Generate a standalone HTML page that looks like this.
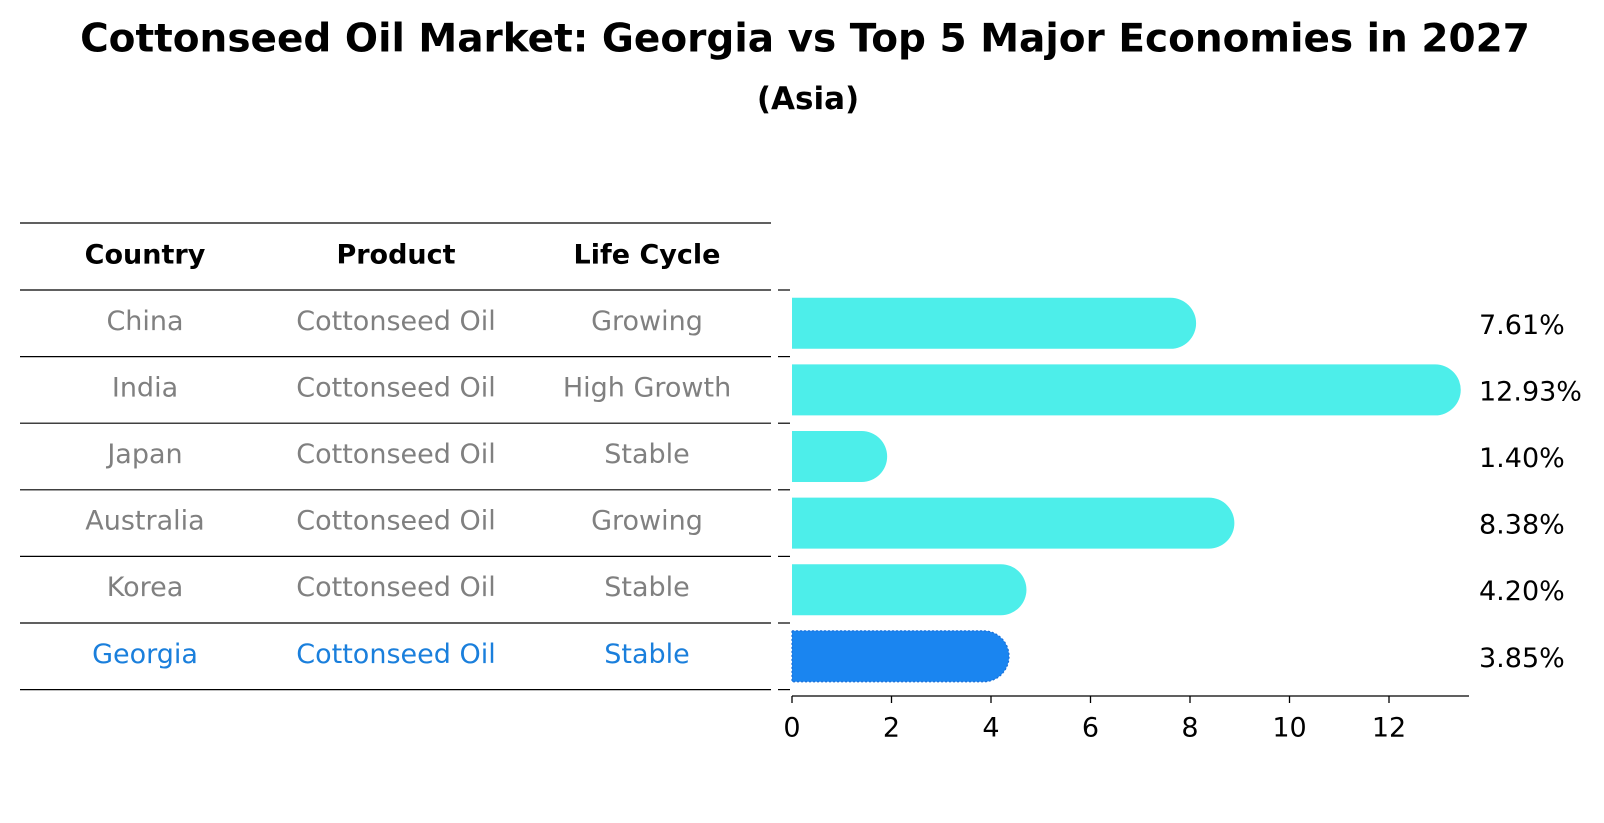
<!DOCTYPE html>
<html><head><meta charset="utf-8">
<style>
html,body{margin:0;padding:0;background:#fff;}
svg{display:block;font-family:"DejaVu Sans","Liberation Sans",sans-serif;}
</style></head>
<body>
<svg id="chart" width="1604" height="823" viewBox="0 0 1604 823">
  <text x="805" y="39" text-anchor="middle" dominant-baseline="central" font-size="39" font-weight="bold">Cottonseed Oil Market: Georgia vs Top 5 Major Economies in 2027</text>
  <text x="808" y="99" text-anchor="middle" dominant-baseline="central" font-size="31" font-weight="bold">(Asia)</text>
  <g id="table"></g>
  <g id="bars"></g>
  <g id="axis"></g>
</svg>
<script>
const countries = ["China","India","Japan","Australia","Korea","Georgia"];
const products = ["Cottonseed Oil","Cottonseed Oil","Cottonseed Oil","Cottonseed Oil","Cottonseed Oil","Cottonseed Oil"];
const lifeCycles = ["Growing","High Growth","Stable","Growing","Stable","Stable"];
const growthValues = [7.61,12.93,1.40,8.38,4.20,3.85];
const valueLabels = ["7.61%","12.93%","1.40%","8.38%","4.20%","3.85%"];
const xTicks = [0,2,4,6,8,10,12];
const headers = ["Country","Product","Life Cycle"];

const NS="http://www.w3.org/2000/svg";
function mk(tag, attrs, parent){const e=document.createElementNS(NS,tag);for(const k in attrs)e.setAttribute(k,attrs[k]);parent.appendChild(e);return e;}

const x0=792, unit=49.75;
function xScale(v){return x0+v*unit;}
const rowTop=290, rowH=66.6;
function rowCenter(i){return rowTop+rowH*(i+0.5);}
const barH=51;
const FS=27;

const table=document.getElementById('table');
const colX=[145,396,647];
const lineYs=[223,290];
for(let i=0;i<countries.length;i++)lineYs.push(rowTop+rowH*(i+1));
lineYs.forEach((y,i)=>{
  const l=mk('line',{x1:20,x2:771,y1:y,y2:y,stroke:'#000','stroke-width':1.2},table);
  
  
});
headers.forEach((h,j)=>{
  const t=mk('text',{x:colX[j],y:255,'text-anchor':'middle','dominant-baseline':'central','font-size':FS,'font-weight':'bold'},table);
  t.textContent=h;
  
  
});
countries.forEach((c,i)=>{
  const cy=rowCenter(i)-2;
  const col=c==="Georgia"?"#1a7fdc":"#808080";
  [c,products[i],lifeCycles[i]].forEach((v,j)=>{
    const t=mk('text',{x:colX[j],y:cy,'text-anchor':'middle','dominant-baseline':'central','font-size':FS,fill:col},table);
    t.textContent=v;
    
    
  });
});

const bars=document.getElementById('bars');
growthValues.forEach((v,i)=>{
  const cy=rowCenter(i);
  const end=xScale(v);
  const r=barH/2;
  const isG=countries[i]==="Georgia";
  const p=mk('path',{d:`M${x0},${cy-r} L${end},${cy-r} A${r},${r} 0 0 1 ${end},${cy+r} L${x0},${cy+r} Z`,fill:isG?'#1a85f0':'#4deeea'},bars);
  if(isG){p.setAttribute('stroke','#1a6fd8');p.setAttribute('stroke-dasharray','2,2');p.setAttribute('stroke-width','1.2');}
  
  
  const t=mk('text',{x:1479,y:cy+2,'dominant-baseline':'central','font-size':FS},bars);
  t.textContent=valueLabels[i];
  
  
});
for(let i=0;i<=countries.length;i++){
  const y=rowTop+rowH*i;
  const tk=mk('line',{x1:778,x2:790,y1:y,y2:y,stroke:'#000','stroke-width':1.2},bars);
  
  
}

const axis=document.getElementById('axis');
const axY=696;
const al=mk('line',{x1:x0,x2:1469,y1:axY,y2:axY,stroke:'#000','stroke-width':1.3},axis);


xTicks.forEach(v=>{
  const x=xScale(v);
  const tk=mk('line',{x1:x,x2:x,y1:axY,y2:axY+7,stroke:'#000','stroke-width':1.3},axis);
  
  
  const t=mk('text',{x:x,y:axY+32,'text-anchor':'middle','dominant-baseline':'central','font-size':FS},axis);
  t.textContent=v;
  
  
});
</script>
</body></html>
